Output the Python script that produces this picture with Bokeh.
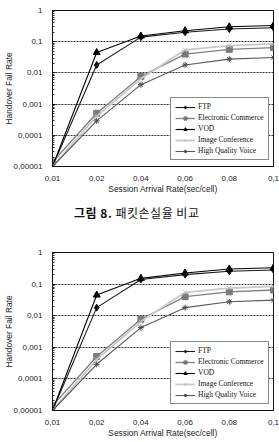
from bokeh.plotting import figure
from bokeh.layouts import column
from bokeh.models import Range1d, FixedTicker, CustomJSTickFormatter, Legend, Div
from bokeh.embed import file_html
from bokeh.resources import INLINE

# Session arrival rate categories (sec/cell) and their axis labels
arrival_rates = [0.01, 0.02, 0.04, 0.06, 0.08, 0.1]
x_labels = ["0,01", "0,02", "0,04", "0,06", "0,08", "0,1"]

# Handover fail rate per traffic class
ftp = [0.00001, 0.018, 0.14, 0.20, 0.254, 0.28]
ecommerce = [0.000014, 0.00051, 0.0077, 0.040, 0.057, 0.065]
vod = [0.00001, 0.045, 0.152, 0.225, 0.30, 0.33]
image_conf = [0.00001, 0.00041, 0.0065, 0.055, 0.075, 0.085]
hq_voice = [0.00001, 0.00029, 0.0042, 0.018, 0.0276, 0.031]

y_ticks = [1e-5, 1e-4, 1e-3, 1e-2, 1e-1, 1]

caption_head = "그림 8."
caption_body = "패킷손실율 비교"

SANS = "Liberation Sans"
SERIF = "Liberation Serif"

series = [
    # label, values, line colour, width, marker, marker size, marker colour
    ("FTP", ftp, "#1a1a1a", 1.1, "diamond", 7, "#111111"),
    ("Electronic Commerce", ecommerce, "#808080", 1.3, "square", 6, "#7a7a7a"),
    ("VOD", vod, "#000000", 1.1, "triangle", 7, "#000000"),
    ("Image Conference", image_conf, "#c8c8c8", 1.8, "x", 6, "#bdbdbd"),
    ("High Quality Voice", hq_voice, "#5a5a5a", 1.1, "asterisk", 6, "#4a4a4a"),
]


def make_chart(height, top, bottom):
    p = figure(width=279, height=height, y_axis_type="log",
               output_backend="svg", toolbar_location=None,
               x_range=Range1d(0, len(arrival_rates) - 1),
               y_range=Range1d(1e-5, 1),
               min_border_left=45, min_border_right=6,
               min_border_top=top, min_border_bottom=bottom)
    p.background_fill_color = "white"
    p.border_fill_color = "white"
    p.outline_line_color = "#111111"
    p.outline_line_width = 1

    idx = list(range(len(arrival_rates)))
    items = []
    for name, vals, lc, lw, marker, ms, mc in series:
        r1 = p.line(idx, vals, line_color=lc, line_width=lw)
        r2 = p.scatter(idx, vals, marker=marker, size=ms,
                       fill_color=mc, line_color=mc, line_width=1)
        items.append((name, [r1, r2]))

    # x axis: evenly spaced categories
    xa = p.xaxis[0]
    xa.ticker = FixedTicker(ticks=idx)
    xa.formatter = CustomJSTickFormatter(args=dict(labels=x_labels),
                                         code="return labels[Math.round(tick)];")
    xa.major_tick_in = 0
    xa.major_tick_out = 0
    xa.minor_tick_in = 0
    xa.minor_tick_out = 0
    xa.axis_line_color = "#111111"
    xa.major_label_standoff = 9
    xa.major_label_text_font = SANS
    xa.major_label_text_font_size = "8px"
    xa.major_label_text_color = "#222222"
    xa.axis_label = "Session Arrival Rate(sec/cell)"
    xa.axis_label_text_font = SANS
    xa.axis_label_text_font_size = "8.4px"
    xa.axis_label_text_font_style = "normal"
    xa.axis_label_text_color = "#222222"
    xa.axis_label_standoff = 0

    # y axis: log decades with comma decimals
    ya = p.yaxis[0]
    minor = [m * d for d in y_ticks[:-1] for m in range(2, 10)]
    ya.ticker = FixedTicker(ticks=y_ticks, minor_ticks=minor)
    ya.formatter = CustomJSTickFormatter(
        code="return String(tick).replace('.', ',');")
    ya.major_tick_in = 3
    ya.major_tick_out = 0
    ya.minor_tick_in = 2
    ya.minor_tick_out = 0
    ya.axis_line_color = "#111111"
    ya.major_tick_line_color = "#111111"
    ya.minor_tick_line_color = "#333333"
    ya.major_label_standoff = 10
    ya.major_label_text_font = SANS
    ya.major_label_text_font_size = "8px"
    ya.major_label_text_color = "#222222"
    ya.axis_label = "Handover Fail Rate"
    ya.axis_label_text_font = SANS
    ya.axis_label_text_font_size = "8.4px"
    ya.axis_label_text_font_style = "normal"
    ya.axis_label_text_color = "#222222"
    ya.axis_label_standoff = -3

    p.xgrid.grid_line_color = None
    p.ygrid.grid_line_color = "#333333"
    p.ygrid.grid_line_dash = "2 1"
    p.ygrid.grid_line_width = 1
    p.ygrid.minor_grid_line_color = None

    legend = Legend(items=items, location=(118, 6))
    legend.border_line_color = "#111111"
    legend.border_line_width = 1
    legend.background_fill_color = "white"
    legend.background_fill_alpha = 1
    legend.label_text_font = SERIF
    legend.label_text_font_size = "7.5px"
    legend.label_text_color = "#111111"
    legend.glyph_width = 20
    legend.glyph_height = 8
    legend.label_height = 8
    legend.label_standoff = 3
    legend.spacing = 2
    legend.padding = 4
    legend.margin = 0
    p.add_layout(legend, "center")
    return p


top_chart = make_chart(196, 10, 28)

# figure caption between the two charts
caption = Div(
    text=(
        '<div style="padding:9px 0 0 74px; font-family:\'Noto Sans CJK KR\';'
        ' font-size:12px; line-height:16px; letter-spacing:0.5px;'
        ' color:#111111; white-space:nowrap;">'
        f'<b>{caption_head}</b> {caption_body}</div>'
    ),
    width=279, height=28, margin=0,
)

bottom_chart = make_chart(218, 28, 32)

layout = column(top_chart, caption, bottom_chart, spacing=0)
open("out.html", "w").write(file_html(layout, INLINE))
